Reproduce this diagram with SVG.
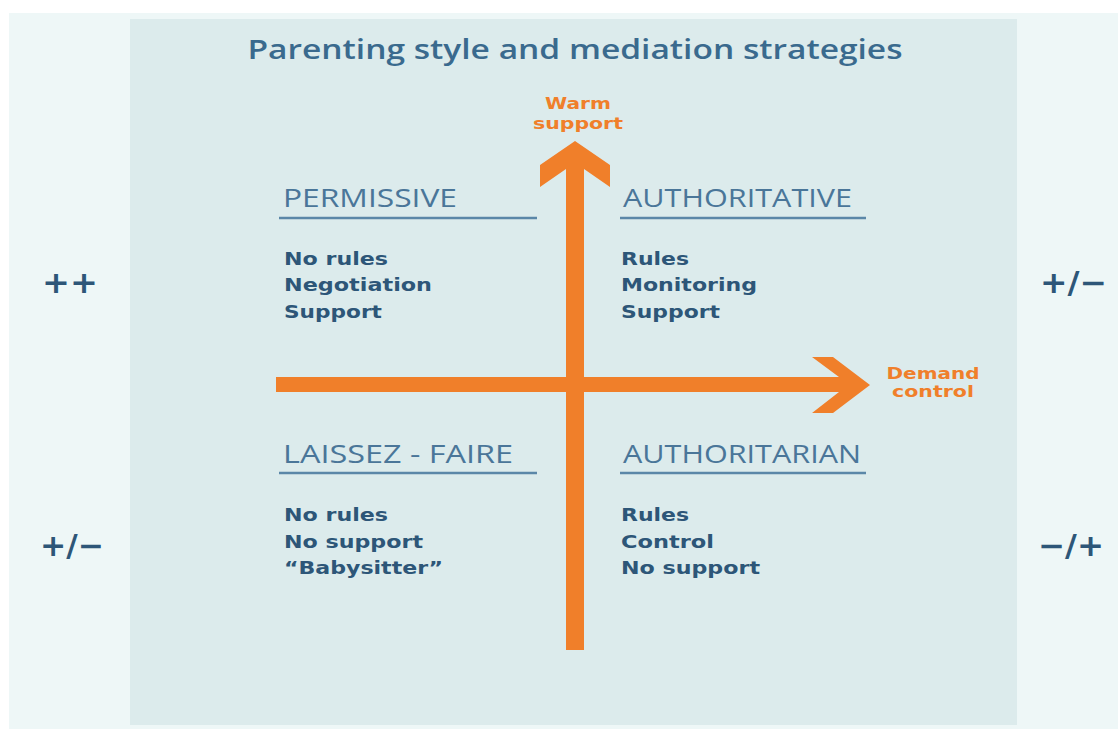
<svg xmlns="http://www.w3.org/2000/svg" width="1118" height="729" viewBox="0 0 1118 729">
  <style>
    .title { font-family: "Open Sans", "Liberation Sans", sans-serif; font-weight: 600; font-size: 27px; fill: #3a6a8e; }
    .head { font-family: "Open Sans", "Liberation Sans", sans-serif; font-weight: 400; font-size: 25px; fill: #4a7699; }
    .item { font-family: "DejaVu Sans", "Liberation Sans", sans-serif; font-weight: bold; font-size: 18.5px; fill: #2d5678; }
    .axis { font-family: "DejaVu Sans", "Liberation Sans", sans-serif; font-weight: bold; font-size: 15.5px; fill: #f07f2a; text-anchor: middle; }
    .side { font-family: "DejaVu Sans", "Liberation Sans", sans-serif; font-weight: bold; font-size: 30px; fill: #2d5678; }
    .rule { stroke: #5b87a8; stroke-width: 2.5; }
    .arrow { fill: #f07f2a; }
  </style>

  <!-- backgrounds -->
  <rect x="0" y="0" width="1118" height="729" fill="#ffffff"/>
  <rect x="9" y="13" width="1109" height="716" fill="#eef7f7"/>
  <rect x="130" y="19" width="887" height="706" fill="#dcebec"/>

  <text class="title" x="575" y="59" text-anchor="middle" textLength="655" lengthAdjust="spacingAndGlyphs">Parenting style and mediation strategies</text>

  <!-- axes -->
  <g id="connectors">
    <!-- vertical: warm support -->
    <path class="arrow" d="M566,650 L566,169 L540,187 L540,165 L575,141 L610,165 L610,187 L584,169 L584,650 Z"/>
    <!-- horizontal: demand control -->
    <path class="arrow" d="M276,377 L839,377 L812,357 L833,357 L870,385 L833,413 L812,413 L839,392 L276,392 Z"/>
  </g>

  <g id="axis-labels">
    <text class="axis" x="578" y="109" textLength="66" lengthAdjust="spacingAndGlyphs">Warm</text>
    <text class="axis" x="578" y="129" textLength="90" lengthAdjust="spacingAndGlyphs">support</text>
    <text class="axis" x="933" y="379" textLength="93" lengthAdjust="spacingAndGlyphs">Demand</text>
    <text class="axis" x="933" y="397" textLength="82" lengthAdjust="spacingAndGlyphs">control</text>
  </g>

  <g id="permissive">
    <text class="head" x="283" y="207" textLength="174" lengthAdjust="spacingAndGlyphs">PERMISSIVE</text>
    <line class="rule" x1="279" y1="218" x2="537" y2="218"/>
    <text class="item" x="284" y="265" textLength="104" lengthAdjust="spacingAndGlyphs">No rules</text>
    <text class="item" x="284" y="291" textLength="148" lengthAdjust="spacingAndGlyphs">Negotiation</text>
    <text class="item" x="284" y="318" textLength="98" lengthAdjust="spacingAndGlyphs">Support</text>
  </g>

  <g id="authoritative">
    <text class="head" x="623" y="207" textLength="229" lengthAdjust="spacingAndGlyphs">AUTHORITATIVE</text>
    <line class="rule" x1="620" y1="218" x2="866" y2="218"/>
    <text class="item" x="621" y="265" textLength="68" lengthAdjust="spacingAndGlyphs">Rules</text>
    <text class="item" x="621" y="291" textLength="136" lengthAdjust="spacingAndGlyphs">Monitoring</text>
    <text class="item" x="621" y="318" textLength="99" lengthAdjust="spacingAndGlyphs">Support</text>
  </g>

  <g id="laissez-faire">
    <text class="head" x="283" y="463" textLength="230" lengthAdjust="spacingAndGlyphs">LAISSEZ - FAIRE</text>
    <line class="rule" x1="279" y1="473" x2="537" y2="473"/>
    <text class="item" x="284" y="521" textLength="104" lengthAdjust="spacingAndGlyphs">No rules</text>
    <text class="item" x="284" y="548" textLength="139" lengthAdjust="spacingAndGlyphs">No support</text>
    <text class="item" x="284" y="574" textLength="159" lengthAdjust="spacingAndGlyphs">“Babysitter”</text>
  </g>

  <g id="authoritarian">
    <text class="head" x="623" y="463" textLength="238" lengthAdjust="spacingAndGlyphs">AUTHORITARIAN</text>
    <line class="rule" x1="620" y1="473" x2="866" y2="473"/>
    <text class="item" x="621" y="521" textLength="68" lengthAdjust="spacingAndGlyphs">Rules</text>
    <text class="item" x="621" y="548" textLength="93" lengthAdjust="spacingAndGlyphs">Control</text>
    <text class="item" x="621" y="574" textLength="139" lengthAdjust="spacingAndGlyphs">No support</text>
  </g>

  <g id="side-marks">
    <text class="side" x="42" y="293" textLength="56" lengthAdjust="spacingAndGlyphs">++</text>
    <text class="side" x="40" y="556" textLength="64" lengthAdjust="spacingAndGlyphs">+/−</text>
    <text class="side" x="1040" y="293" textLength="67" lengthAdjust="spacingAndGlyphs">+/−</text>
    <text class="side" x="1038" y="556" textLength="66" lengthAdjust="spacingAndGlyphs">−/+</text>
  </g>
</svg>
